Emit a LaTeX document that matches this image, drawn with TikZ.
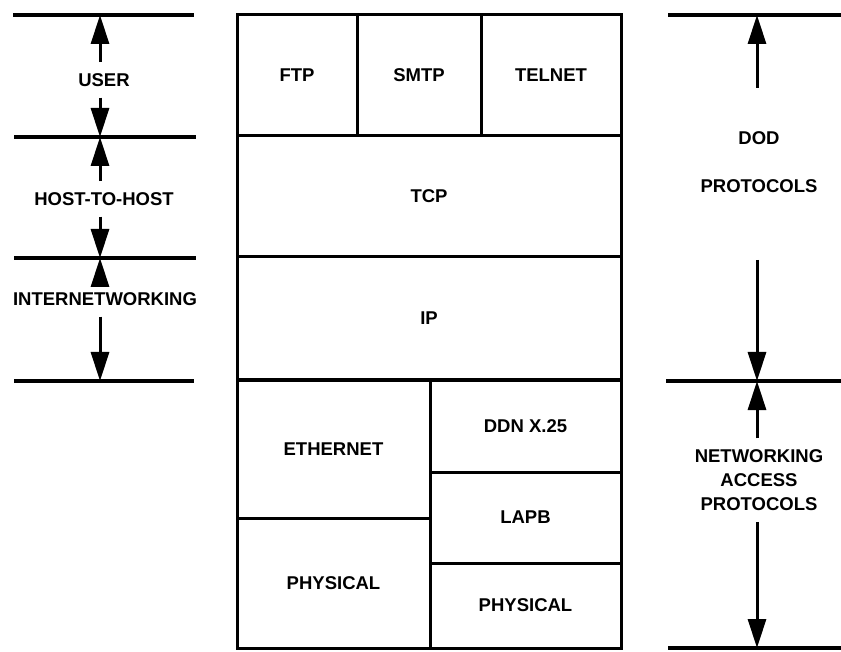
\documentclass[tikz,border=0pt]{standalone}
\usepackage{fontspec}
\setmainfont{Liberation Sans}
\usetikzlibrary{arrows.meta,positioning}
\newcommand{\lblfont}{\fontsize{18.5}{24}\selectfont\bfseries}

\begin{document}
\begin{tikzpicture}[
  x=1pt, y=-1pt,
  cell/.style={draw, line width=3pt, inner sep=0pt, outer sep=0pt,
               font=\lblfont, align=center},
  side/.style={font=\lblfont, align=center, inner xsep=2pt, inner ysep=11pt},
  rule/.style={line width=3.2pt},
  arr/.style={-{Triangle[length=29pt,width=18pt]}, line width=3pt}
]
  \useasboundingbox (0,0) rectangle (841,652);

  %% Protocol stack
  \node[cell, minimum width=120pt, minimum height=121pt, anchor=north west] (ftp)
    at (237,15) {FTP};
  \node[cell, minimum width=124pt, minimum height=121pt, right=0pt of ftp] (smtp) {SMTP};
  \node[cell, minimum width=140pt, minimum height=121pt, right=0pt of smtp] (telnet) {TELNET};
  \node[cell, minimum width=384pt, minimum height=121pt, anchor=north west] (tcp)
    at (ftp.south west) {TCP};
  \node[cell, minimum width=384pt, minimum height=123pt, anchor=north west] (ip)
    at (tcp.south west) {IP};
  \node[cell, minimum width=193pt, minimum height=138pt, anchor=north west] (ether)
    at (ip.south west) {ETHERNET};
  \node[cell, minimum width=193pt, minimum height=130pt, anchor=north west] (physa)
    at (ether.south west) {PHYSICAL};
  \node[cell, minimum width=191pt, minimum height=92pt, anchor=north west] (ddn)
    at (ether.north east) {DDN X.25};
  \node[cell, minimum width=191pt, minimum height=91pt, anchor=north west] (lapb)
    at (ddn.south west) {LAPB};
  \node[cell, minimum width=191pt, minimum height=85pt, anchor=north west] (physb)
    at (lapb.south west) {PHYSICAL};

  %% Left scale
  \coordinate (u0) at (100,15);
  \coordinate (u1) at (100,137);
  \coordinate (u2) at (100,258);
  \coordinate (u3) at (100,381);
  \draw[rule] ([xshift=-87pt]u0) -- ([xshift=94pt]u0);
  \draw[rule] ([xshift=-86pt]u1) -- ([xshift=96pt]u1);
  \draw[rule] ([xshift=-86pt]u2) -- ([xshift=96pt]u2);
  \draw[rule] ([xshift=-86pt]u3) -- ([xshift=94pt]u3);

  \node[side] (user) at (104,80) {USER};
  \node[side] (host) at (104,199) {HOST-TO-HOST};
  \node[side] (inet) at (105,299) {INTERNETWORKING};

  \draw[arr] (user.north -| u0) -- (u0);
  \draw[arr] (user.south -| u1) -- (u1);
  \draw[arr] (host.north -| u1) -- (u1);
  \draw[arr] (host.south -| u2) -- (u2);
  \draw[arr] (inet.north -| u2) -- (u2);
  \draw[arr] (inet.south -| u3) -- (u3);

  %% Right scale
  \coordinate (d0) at (757,15);
  \coordinate (d1) at (757,381);
  \coordinate (d2) at (757,648);
  \draw[rule] ([xshift=-89pt]d0) -- ([xshift=84pt]d0);
  \draw[rule] ([xshift=-91pt]d1) -- ([xshift=84pt]d1);
  \draw[rule] ([xshift=-89pt]d2) -- ([xshift=84pt]d2);

  \node[side] (dod) at (759,138) {DOD};
  \node[side] (proto) at (759,186) {PROTOCOLS};
  \node[side] (nap) at (759,480) {NETWORKING\\ACCESS\\PROTOCOLS};
  \coordinate (t0) at (757,88);
  \coordinate (t1) at (757,260);

  \draw[arr] (t0) -- (d0);
  \draw[arr] (t1) -- (d1);
  \draw[arr] (nap.north -| d1) -- (d1);
  \draw[arr] (nap.south -| d2) -- (d2);
\end{tikzpicture}
\end{document}
